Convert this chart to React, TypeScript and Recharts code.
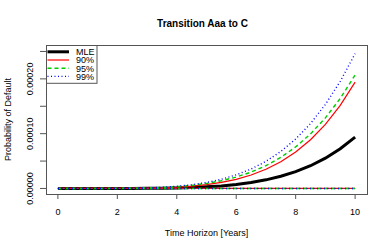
import React from 'react';
import { LineChart, Line, XAxis, YAxis } from 'recharts';

const years = [0, 0.5, 1, 1.5, 2, 2.5, 3, 3.5, 4, 4.5, 5, 5.5, 6, 6.5, 7, 7.5, 8, 8.5, 9, 9.5, 10];
const mle = [0, 2.9e-11, 9.4e-10, 7.1e-9, 3.0e-8, 9.1e-8, 2.27e-7, 4.92e-7, 9.58e-7, 1.73e-6, 2.93e-6, 4.71e-6, 7.28e-6, 1.086e-5, 1.573e-5, 2.22e-5, 3.07e-5, 4.15e-5, 5.53e-5, 7.24e-5, 9.36e-5];
const upper90 = [0, 1.1e-10, 3.1e-9, 2.15e-8, 8.6e-8, 2.5e-7, 6.0e-7, 1.26e-6, 2.39e-6, 4.2e-6, 6.96e-6, 1.1e-5, 1.67e-5, 2.45e-5, 3.5e-5, 4.88e-5, 6.65e-5, 8.89e-5, 1.17e-4, 1.517e-4, 1.94e-4];
const upper95 = [0, 2.9e-10, 6.5e-9, 4.06e-8, 1.48e-7, 4.04e-7, 9.2e-7, 1.84e-6, 3.35e-6, 5.7e-6, 9.15e-6, 1.41e-5, 2.08e-5, 2.98e-5, 4.16e-5, 5.67e-5, 7.58e-5, 9.96e-5, 1.288e-4, 1.643e-4, 2.07e-4];
const upper99 = [0, 3.5e-10, 7.7e-9, 4.8e-8, 1.76e-7, 4.8e-7, 1.09e-6, 2.19e-6, 3.99e-6, 6.8e-6, 1.09e-5, 1.68e-5, 2.48e-5, 3.55e-5, 4.95e-5, 6.75e-5, 9.02e-5, 1.185e-4, 1.533e-4, 1.955e-4, 2.46e-4];
const lower90 = [0, 0, 0, 0, 0, 0, 0, 0, 0, 0, 0, 0, 0, 0, 0, 0, 0, 0, 0, 0, 0];
const lower95 = [0, 0, 0, 0, 0, 0, 0, 0, 0, 0, 0, 0, 0, 0, 0, 0, 0, 0, 0, 0, 0];
const lower99 = [0, 0, 0, 0, 0, 0, 0, 0, 0, 0, 0, 0, 0, 0, 0, 0, 0, 0, 0, 0, 0];

const xTicks = [0, 2, 4, 6, 8, 10];
const yTicks = [0, 0.00005, 0.0001, 0.00015, 0.0002, 0.00025];
const yTickLabels = ['0.00000', '', '0.00010', '', '0.00020', ''];
const legendLabels = ['MLE', '90%', '95%', '99%'];

const title = 'Transition Aaa to C';
const xTitle = 'Time Horizon [Years]';
const yTitle = 'Probability of Default';

const data = years.map((t, i) => ({
  t,
  mle: mle[i],
  up90: upper90[i],
  lo90: lower90[i],
  up95: upper95[i],
  lo95: lower95[i],
  up99: upper99[i],
  lo99: lower99[i],
}));

const FONT = '"Liberation Sans", Arial, Helvetica, sans-serif';
const W = 390;
const H = 251;
const PL = 46;
const PR = 367;
const PT = 45;
const PB = 194;

const YTick = (props: any) => {
  const { y, index } = props;
  const label = yTickLabels[index];
  if (!label) return <g />;
  const bx = 33;
  return (
    <text x={bx} y={y} transform={`rotate(-90, ${bx}, ${y})`} textAnchor="middle" fontSize={9} fontFamily={FONT} fill="#000">
      {label}
    </text>
  );
};

const XTick = (props: any) => {
  const { x, payload } = props;
  return (
    <text x={x} y={214.5} textAnchor="middle" fontSize={9} fontFamily={FONT} fill="#000">
      {payload.value}
    </text>
  );
};

const legendStyles = [
  { color: '#000', width: 3, dash: undefined },
  { color: '#ff0000', width: 1.2, dash: undefined },
  { color: '#00cd00', width: 1.4, dash: '4 3' },
  { color: '#0000ff', width: 1.4, dash: '1 2.5' },
];

export default function App() {
  const lx0 = 47.5;
  const lx1 = 69;
  const ly = [51.8, 60, 68.2, 76.4];
  return (
    <div style={{ position: 'absolute', left: 0, top: 0, width: W, height: H, background: '#fff' }}>
      <LineChart width={W} height={H} data={data} margin={{ top: PT, right: W - PR, bottom: 0, left: 0 }}>
        <XAxis
          dataKey="t"
          type="number"
          domain={[-0.4, 10.4]}
          allowDataOverflow
          ticks={xTicks}
          height={H - PB}
          axisLine={false}
          tickLine={{ stroke: '#555', strokeWidth: 1 }}
          tickSize={5}
          tick={<XTick />}
          interval={0}
        />
        <YAxis
          type="number"
          domain={[-0.0000101, 0.0002618]}
          allowDataOverflow
          ticks={yTicks}
          width={PL}
          axisLine={false}
          tickLine={{ stroke: '#555', strokeWidth: 1 }}
          tickSize={6}
          tick={<YTick />}
          interval={0}
        />
        <Line dataKey="mle" stroke="#000" strokeWidth={3} dot={false} isAnimationActive={false} />
        <Line dataKey="up90" stroke="#ff0000" strokeWidth={1.2} dot={false} isAnimationActive={false} />
        <Line dataKey="lo90" stroke="#ff0000" strokeWidth={1.2} dot={false} isAnimationActive={false} />
        <Line dataKey="up95" stroke="#00cd00" strokeWidth={1.4} strokeDasharray="4 3" dot={false} isAnimationActive={false} />
        <Line dataKey="lo95" stroke="#00cd00" strokeWidth={1.4} strokeDasharray="4 3" dot={false} isAnimationActive={false} />
        <Line dataKey="up99" stroke="#0000ff" strokeWidth={1.4} strokeDasharray="1 2.5" dot={false} isAnimationActive={false} />
        <Line dataKey="lo99" stroke="#0000ff" strokeWidth={1.4} strokeDasharray="1 2.5" dot={false} isAnimationActive={false} />
      </LineChart>
      <svg width={W} height={H} style={{ position: 'absolute', left: 0, top: 0, pointerEvents: 'none' }}>
        <rect x={PL + 0.5} y={PT + 0.5} width={PR - PL} height={PB - PT} fill="none" stroke="#555" strokeWidth={1} />
        <text x={202.5} y={27.3} textAnchor="middle" fontSize={10} fontWeight="bold" fontFamily={FONT} fill="#000">
          {title}
        </text>
        <text x={(PL + PR) / 2} y={236} textAnchor="middle" fontSize={9} fontFamily={FONT} fill="#000">
          {xTitle}
        </text>
        <text x={10.5} y={(PT + PB) / 2} transform={`rotate(-90, 10.5, ${(PT + PB) / 2})`} textAnchor="middle" fontSize={9} fontFamily={FONT} fill="#000">
          {yTitle}
        </text>
        <rect x={PL + 0.5} y={PT + 0.5} width={50.5} height={37.8} fill="#fff" stroke="#555" strokeWidth={1} />
        {legendLabels.map((lab, i) => (
          <g key={lab}>
            <line x1={lx0} x2={lx1} y1={ly[i]} y2={ly[i]} stroke={legendStyles[i].color} strokeWidth={legendStyles[i].width} strokeDasharray={legendStyles[i].dash} />
            <text x={76} y={ly[i] + 3.3} fontSize={9} fontFamily={FONT} fill="#000">
              {lab}
            </text>
          </g>
        ))}
      </svg>
    </div>
  );
}
